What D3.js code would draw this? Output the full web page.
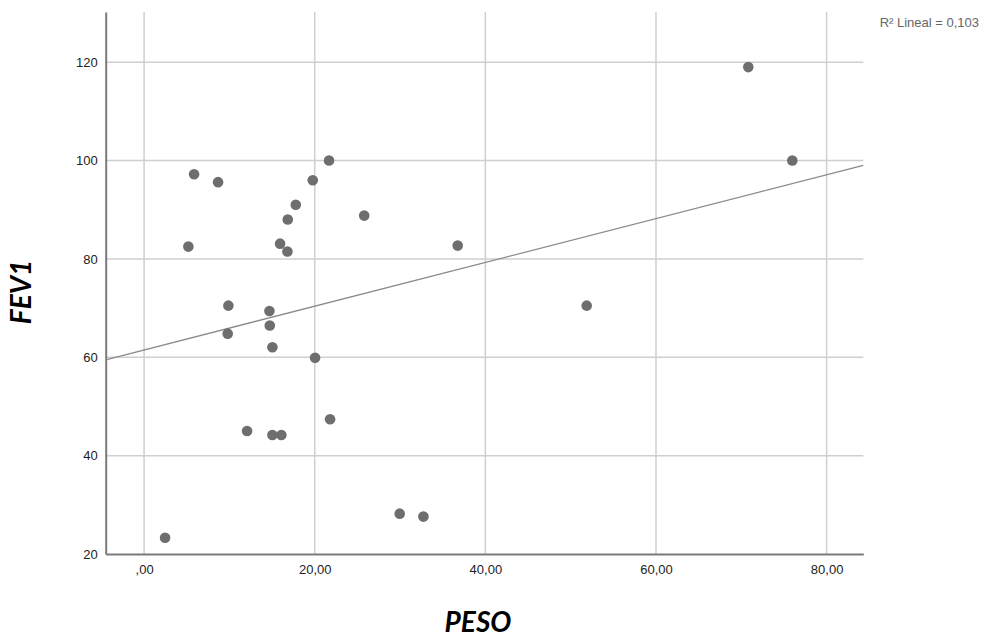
<!DOCTYPE html>
<html>
<head>
<meta charset="utf-8">
<script src="https://cdn.jsdelivr.net/npm/d3@7/dist/d3.min.js"></script>
<style>
  html, body { margin: 0; padding: 0; background: #fff; }
  svg { display: block; }
</style>
</head>
<body>
<svg id="chart" width="982" height="637"></svg>
<script>
// Data
const peso = [5.86, 8.67, 19.77, 21.68, 17.78, 16.84, 5.19, 15.94, 16.8, 9.88, 14.69, 9.8, 14.73, 15.04, 20.04, 25.8, 21.8, 12.07, 15.04, 16.09, 2.46, 29.96, 32.74, 36.76, 51.88, 70.82, 75.98];
const fev1 = [97.2, 95.6, 96.0, 100.0, 91.0, 88.0, 82.5, 83.1, 81.5, 70.5, 69.4, 64.8, 66.45, 62.05, 59.9, 88.8, 47.4, 45.0, 44.2, 44.2, 23.3, 28.2, 27.6, 82.7, 70.5, 119.0, 100.0];
const xTicks = [0, 20, 40, 60, 80];
const yTicks = [20, 40, 60, 80, 100, 120];
const xTickLabels = [",00", "20,00", "40,00", "60,00", "80,00"];
const xTitle = "PESO";
const yTitle = "FEV1";
const r2Label = "R² Lineal = 0,103";

const svg = d3.select("#chart");
const plotLeft = 105.7, plotRight = 863.3, plotTop = 12, plotBottom = 554;

const x = d3.scaleLinear().domain([-4.5, 84.3]).range([plotLeft, plotRight]);
const y = d3.scaleLinear().domain([20, 130.2]).range([plotBottom, plotTop]);

// gridlines
const grid = svg.append("g");
grid.selectAll("line.v").data(xTicks).enter().append("line")
  .attr("x1", d => x(d)).attr("x2", d => x(d))
  .attr("y1", plotTop).attr("y2", plotBottom)
  .attr("stroke", "#cfcfcf").attr("stroke-width", 1.5);
grid.selectAll("line.h").data(yTicks.filter(d => d > 20)).enter().append("line")
  .attr("x1", plotLeft).attr("x2", plotRight)
  .attr("y1", d => y(d)).attr("y2", d => y(d))
  .attr("stroke", "#cfcfcf").attr("stroke-width", 1.5);

// axes
const xAxis = d3.axisBottom(x).tickValues(xTicks).tickSize(0).tickPadding(11)
  .tickFormat((d, i) => xTickLabels[i]);
const yAxis = d3.axisLeft(y).tickValues(yTicks).tickSize(0).tickPadding(8);

const gx = svg.append("g").attr("transform", `translate(0,${plotBottom})`).call(xAxis);
const gy = svg.append("g").attr("transform", `translate(${plotLeft},0)`).call(yAxis);
[gx, gy].forEach(g => {
  g.select(".domain").attr("stroke", "#7a7a7a").attr("stroke-width", 2);
  g.selectAll("text").attr("font-family", "Liberation Sans, Arial, sans-serif")
    .attr("font-size", 13).attr("fill", "#222");
});

// regression line (least squares from the data)
const mx = d3.mean(peso), my = d3.mean(fev1);
let sxy = 0, sxx = 0;
for (let i = 0; i < peso.length; i++) {
  sxy += (peso[i] - mx) * (fev1[i] - my);
  sxx += (peso[i] - mx) ** 2;
}
const slope = sxy / sxx, intercept = my - slope * mx;
const xd = x.domain();
svg.append("line")
  .attr("x1", x(xd[0])).attr("y1", y(intercept + slope * xd[0]))
  .attr("x2", x(xd[1])).attr("y2", y(intercept + slope * xd[1]))
  .attr("stroke", "#8a8a8a").attr("stroke-width", 1.3);

// points
svg.append("g").selectAll("circle").data(peso).enter().append("circle")
  .attr("cx", d => x(d)).attr("cy", (d, i) => y(fev1[i]))
  .attr("r", 5.3).attr("fill", "#6e6e6e");

// titles
svg.append("text").attr("x", 478).attr("y", 632).attr("text-anchor", "middle")
  .attr("font-family", "Lato, Open Sans, sans-serif").attr("font-weight", "bold")
  .attr("font-style", "italic").attr("font-size", 28).attr("fill", "#000").text(xTitle);
svg.append("text").attr("transform", "translate(31,292) rotate(-90)").attr("text-anchor", "middle")
  .attr("font-family", "Lato, Open Sans, sans-serif").attr("font-weight", "bold")
  .attr("font-style", "italic").attr("font-size", 28).attr("fill", "#000").text(yTitle);

svg.append("text").attr("x", 979).attr("y", 26.5).attr("text-anchor", "end")
  .attr("font-family", "Liberation Sans, Arial, sans-serif").attr("font-size", 13)
  .attr("fill", "#666").text(r2Label);
</script>
</body>
</html>
